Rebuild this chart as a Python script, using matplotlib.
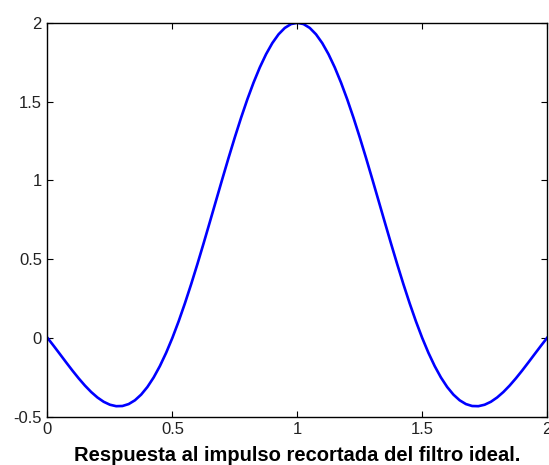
import matplotlib
matplotlib.use("Agg")
import matplotlib.pyplot as plt

# impulse response, step 0.025
x_vals = [i * 0.025 for i in range(81)]
y_vals = [0.0, -0.0511, -0.1035, -0.1562, -0.2079, -0.2572, -0.3030, -0.3438,
          -0.3784, -0.4057, -0.4244, -0.4336, -0.4325, -0.4202, -0.3962, -0.3601,
          -0.3118, -0.2513, -0.1788, -0.0948, 0.0, 0.1048, 0.2186, 0.3400,
          0.4677, 0.6002, 0.7358, 0.8727, 1.0091, 1.1432, 1.2732, 1.3973,
          1.5137, 1.6206, 1.7168, 1.8006, 1.8710, 1.9268, 1.9673, 1.9918,
          2.0,
          1.9918, 1.9673, 1.9268, 1.8710, 1.8006, 1.7168, 1.6206, 1.5137,
          1.3973, 1.2732, 1.1432, 1.0091, 0.8727, 0.7358, 0.6002, 0.4677,
          0.3400, 0.2186, 0.1048, 0.0, -0.0948, -0.1788, -0.2513, -0.3118,
          -0.3601, -0.3962, -0.4202, -0.4325, -0.4336, -0.4244, -0.4057, -0.3784,
          -0.3438, -0.3030, -0.2572, -0.2079, -0.1562, -0.1035, -0.0511, 0.0]

x_ticks = [0, 0.5, 1, 1.5, 2]
x_ticklabels = ["0", "0.5", "1", "1.5", "2"]
y_ticks = [-0.5, 0, 0.5, 1, 1.5, 2]
y_ticklabels = ["-0.5", "0", "0.5", "1", "1.5", "2"]
xlabel = "Respuesta al impulso recortada del filtro ideal."

plt.rcParams["font.family"] = ["Liberation Sans", "DejaVu Sans"]

fig = plt.figure(figsize=(5.49, 4.65), dpi=100)
ax = fig.add_axes([0.0865, 0.104, 0.910, 0.847])

ax.plot(x_vals, y_vals, color="#0000ff", linewidth=1.9)

ax.set_xlim(0, 2)
ax.set_ylim(-0.5, 2)
ax.set_xticks(x_ticks)
ax.set_xticklabels(x_ticklabels)
ax.set_yticks(y_ticks)
ax.set_yticklabels(y_ticklabels)

ax.tick_params(direction="in", length=4.5, width=0.8, top=True, right=True,
               labelsize=12, pad=4, colors="black")
ax.tick_params(axis="y", pad=4)
for lbl in ax.get_xticklabels() + ax.get_yticklabels():
    lbl.set_color("#222222")
for s in ax.spines.values():
    s.set_linewidth(1.0)

ax.set_xlabel(xlabel, fontsize=14.5, fontweight="bold", labelpad=6)

fig.savefig("out.png", dpi=100)
